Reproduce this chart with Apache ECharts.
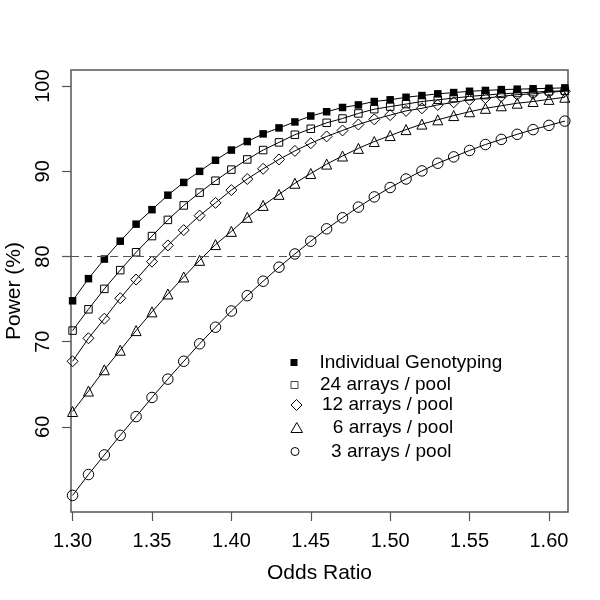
<!DOCTYPE html>
<html>
<head>
<meta charset="utf-8">
<script src="https://cdn.jsdelivr.net/npm/echarts@6/dist/echarts.min.js"></script>
<style>html,body{margin:0;padding:0;background:#fff}#c{width:600px;height:600px}</style>
</head>
<body>
<div id="c"></div>
<script>
var oddsRatio = [1.30,1.31,1.32,1.33,1.34,1.35,1.36,1.37,1.38,1.39,1.40,1.41,1.42,1.43,1.44,1.45,1.46,1.47,1.48,1.49,1.50,1.51,1.52,1.53,1.54,1.55,1.56,1.57,1.58,1.59,1.60,1.61];
var individual = [74.8,77.4,79.7,81.8,83.8,85.5,87.2,88.7,90.0,91.3,92.5,93.5,94.4,95.1,95.8,96.5,97.0,97.5,97.8,98.2,98.4,98.7,98.9,99.1,99.25,99.4,99.5,99.6,99.65,99.7,99.75,99.8];
var arrays24 = [71.3,73.8,76.2,78.4,80.5,82.4,84.3,86.0,87.5,88.9,90.2,91.4,92.5,93.4,94.3,95.0,95.7,96.2,96.8,97.3,97.6,97.9,98.2,98.4,98.6,98.8,98.95,99.1,99.2,99.3,99.4,99.45];
var arrays12 = [67.7,70.4,72.7,75.1,77.3,79.4,81.3,83.1,84.8,86.3,87.8,89.1,90.3,91.4,92.4,93.3,94.1,94.8,95.5,96.1,96.6,97.1,97.4,97.8,98.1,98.4,98.6,98.8,99.0,99.1,99.3,99.4];
var arrays6 = [61.8,64.2,66.7,69.0,71.3,73.5,75.6,77.6,79.55,81.4,82.95,84.6,86.0,87.3,88.6,89.75,90.85,91.8,92.7,93.5,94.2,94.9,95.55,96.05,96.55,97.0,97.4,97.7,98.0,98.2,98.45,98.7];
var arrays3 = [51.95,54.4,56.7,59.0,61.2,63.45,65.6,67.7,69.75,71.7,73.6,75.4,77.1,78.75,80.3,81.8,83.25,84.55,85.8,87.0,88.1,89.1,90.05,90.95,91.7,92.45,93.15,93.75,94.35,94.9,95.4,95.9];
var xTicks = [1.30,1.35,1.40,1.45,1.50,1.55,1.60];
var yTicks = [60,70,80,90,100];
var seriesNames = ['Individual Genotyping','24 arrays / pool','12 arrays / pool','  6 arrays / pool','  3 arrays / pool'];
var thresholdPower = 80;

function pairs(ys){ return oddsRatio.map(function(x,i){ return [x, ys[i]]; }); }

var FONT = 'Liberation Sans, Arial, sans-serif';
var hollow = {color:'rgba(255,255,255,0)', borderColor:'#000', borderWidth:1};

var specs = [
  {data: individual, symbol:'rect', size:7.5, style:{color:'#000', borderColor:'#000', borderWidth:0}, icon:'path://M0,0H10V10H0Z', iconSize:7, iconStyle:{color:'#000', borderWidth:0}},
  {data: arrays24, symbol:'rect', size:7.5, style:hollow, icon:'path://M0,0H10V10H0Z', iconSize:7, iconStyle:{color:'rgba(255,255,255,0)', borderColor:'#444', borderWidth:1}},
  {data: arrays12, symbol:'diamond', size:11, style:hollow, icon:'path://M5,0L10,5L5,10L0,5Z', iconSize:11, iconStyle:{color:'rgba(255,255,255,0)', borderColor:'#000', borderWidth:1}},
  {data: arrays6, symbol:'triangle', size:10, style:hollow, icon:'path://M5,0L10,8.66L0,8.66Z', iconSize:10, iconStyle:{color:'rgba(255,255,255,0)', borderColor:'#000', borderWidth:1}},
  {data: arrays3, symbol:'circle', size:10.5, style:hollow, icon:'path://M10,5A5,5 0 1 1 0,5A5,5 0 1 1 10,5Z', iconSize:8, iconStyle:{color:'rgba(255,255,255,0)', borderColor:'#000', borderWidth:1}}
];

var rowCenters = [356.5, 379, 401, 423, 446];
var legends = specs.map(function(s, i){
  return {
    show:true, selectedMode:false, orient:'vertical', padding:0,
    left: 290.5, top: rowCenters[i] - s.iconSize/2,
    itemWidth: 25, itemHeight: s.iconSize, symbolKeepAspect:true,
    textStyle:{fontFamily:FONT, fontSize:19, color:'#000', padding:[0,0,0,8]},
    data:[{name: seriesNames[i], icon: s.icon, itemStyle: s.iconStyle}]
  };
});

var series = specs.map(function(s, i){
  var o = {
    name: seriesNames[i], type:'line', data: pairs(s.data),
    symbol: s.symbol, symbolSize: s.size, showAllSymbol:true,
    lineStyle:{color:'#000', width:1}, itemStyle: s.style,
    emphasis:{disabled:true}, animation:false, z: 3
  };
  if (i === 0) {
    o.markLine = {silent:true, symbol:'none', label:{show:false},
      lineStyle:{color:'#555', type:[8,5], width:1.2},
      data:[{yAxis: thresholdPower}]};
  }
  return o;
});

var chart = echarts.init(document.getElementById('c'), null, {renderer:'canvas'});
chart.setOption({
  animation:false,
  backgroundColor:'#fff',
  grid:{left:71, right:32, top:70, bottom:88, show:true, borderColor:'#555', borderWidth:1.5, backgroundColor:'transparent', containLabel:false, outerBoundsMode:'none'},
  legend: legends,
  xAxis:{type:'value', min:1.299, max:1.612,
    name:'Odds Ratio', nameLocation:'middle', nameGap:51,
    nameTextStyle:{fontFamily:FONT, fontSize:21, color:'#000'},
    axisLine:{show:false},
    axisTick:{show:true, length:9, lineStyle:{color:'#555', width:1.2}, customValues: xTicks},
    axisLabel:{show:true, margin:19, fontFamily:FONT, fontSize:20, color:'#000', customValues: xTicks,
      formatter:function(v){ return v.toFixed(2); }},
    splitLine:{show:false}},
  yAxis:{type:'value', min:50, max:101.9,
    name:'Power (%)', nameLocation:'middle', nameGap:39, nameRotate:90,
    nameTextStyle:{fontFamily:FONT, fontSize:21, color:'#000'},
    axisLine:{show:false},
    axisTick:{show:true, length:9, lineStyle:{color:'#555', width:1.2}, customValues: yTicks},
    axisLabel:{show:true, rotate:90, margin:18, fontFamily:FONT, fontSize:20, color:'#000', customValues: yTicks},
    splitLine:{show:false}},
  series: series
});
</script>
</body>
</html>
